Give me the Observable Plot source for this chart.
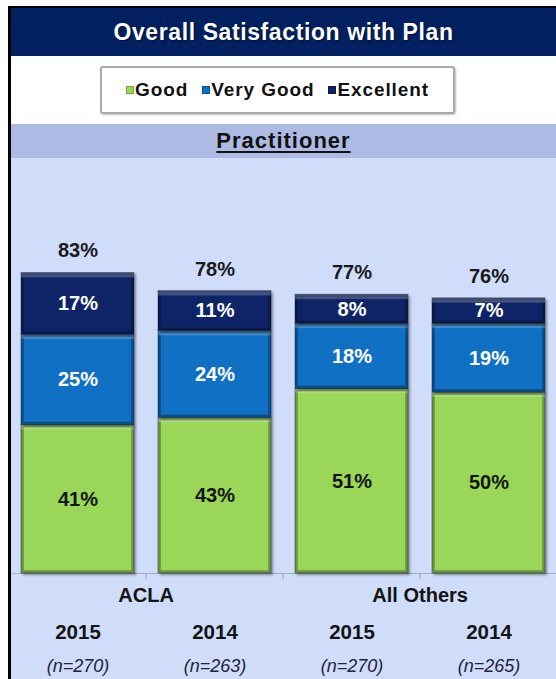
<!DOCTYPE html>
<html>
<head>
<meta charset="utf-8">
<script src="https://cdn.jsdelivr.net/npm/d3@7"></script>
<script src="https://cdn.jsdelivr.net/npm/@observablehq/plot@0.6"></script>
<style>
  html, body { margin: 0; padding: 0; background: #fff; }
  body { width: 556px; height: 679px; position: relative; overflow: hidden; font-family: "Liberation Sans", Arial, sans-serif; }
  .abs { position: absolute; }
  #topline { left: 8px; top: 6px; width: 548px; height: 2px; background: #000; }
  #leftline { left: 8px; top: 6px; width: 3px; height: 673px; background: #000; z-index: 5; }
  #header { left: 11px; top: 8px; width: 545px; height: 48px; background: #002060; color: #fff; font-weight: bold; font-size: 23px; letter-spacing: 0.6px; display: flex; align-items: center; justify-content: center; text-shadow: 1px 1px 1px rgba(0,0,0,0.5); }
  #whiteband { left: 11px; top: 56px; width: 545px; height: 68px; background: #fff; }
  #legend { left: 100px; top: 66px; width: 351px; height: 44px; border: 2px solid #a9a9a9; border-radius: 3px; box-shadow: 1px 1px 2px rgba(0,0,0,0.25); background: #fff; display: flex; align-items: center; justify-content: center; font-weight: bold; font-size: 19px; letter-spacing: 0.9px; color: #111; }
  .item { display: flex; align-items: center; margin: 0 7px 0 7px; }
  .sw { width: 8px; height: 8px; margin-right: 1px; box-shadow: inset 0 0 0 1px rgba(0,0,0,0.25); }
  #band { left: 11px; top: 124px; width: 545px; height: 34px; background: #adbae3; display: flex; align-items: center; justify-content: center; }
  #band span { font-weight: bold; font-size: 22px; letter-spacing: 1px; color: #111; text-decoration: underline; text-decoration-thickness: 2px; text-underline-offset: 3px; }
  #plotbg { left: 11px; top: 158px; width: 545px; height: 521px; background: #cfdcfa; }
  #bars { left: 11px; top: 158px; }
</style>
</head>
<body>
<div id="header" class="abs">Overall Satisfaction with Plan</div>
<div id="whiteband" class="abs"></div>
<div id="legend" class="abs"></div>
<div id="band" class="abs"><span>Practitioner</span></div>
<div id="plotbg" class="abs"></div>
<div id="bars" class="abs"></div>
<div id="topline" class="abs"></div>
<div id="leftline" class="abs"></div>
<script>
// ---- data ----
const categories = ["ACLA 2015", "ACLA 2014", "All Others 2015", "All Others 2014"];
const series = ["Good", "Very Good", "Excellent"];
const good = [41, 43, 51, 50];
const veryGood = [25, 24, 18, 19];
const excellent = [17, 11, 8, 7];
const totals = [83, 78, 77, 76];
const groups = ["ACLA", "All Others"];
const years = ["2015", "2014", "2015", "2014"];
const nLabels = ["(n=270)", "(n=263)", "(n=270)", "(n=265)"];
const colors = ["#9ad758", "#0f70c4", "#0f2467"];

// ---- tables built from the arrays ----
const seriesValues = [good, veryGood, excellent];
const rows = [];
series.forEach((s, si) => categories.forEach((c, ci) => rows.push({cat: c, series: s, value: seriesValues[si][ci]})));
const totalRows = categories.map((c, i) => ({cat: c, total: totals[i]}));
const catRows = categories.map((c, i) => ({cat: c, year: years[i], n: nLabels[i]}));
// each group label sits on the boundary between its two categories
const groupRows = groups.map((g, i) => ({cat: categories[i * 2 + 1], group: g}));
const boundaries = categories.slice(1);

// legend
const legend = document.getElementById("legend");
series.forEach((s, i) => {
  const it = document.createElement("div");
  it.className = "item";
  const sw = document.createElement("div");
  sw.className = "sw";
  sw.style.background = colors[i];
  const t = document.createElement("span");
  t.textContent = s;
  it.appendChild(sw); it.appendChild(t);
  legend.appendChild(it);
});

const font = "'Liberation Sans', Arial, sans-serif";
const xRange = [-3, 548];
const step = (xRange[1] - xRange[0]) / categories.length;

// ---- bars + category axis ----
const bars = Plot.plot({
  width: 545,
  height: 521,
  margin: 0,
  style: {background: "transparent", fontFamily: font, overflow: "visible"},
  x: {domain: categories, range: xRange, paddingInner: 0.174, paddingOuter: 0.087, axis: null},
  y: {domain: [0, 100], range: [415, 53], axis: null},
  color: {domain: series, range: colors},
  marks: [
    Plot.ruleY([0], {stroke: "#a4adbf", strokeWidth: 1.2}),
    Plot.ruleX(boundaries, {x: d => d, dx: -step / 2, y1: 0, y2: 0, insetBottom: -6, stroke: "#9aa3b5"}),
    Plot.barY(rows, {x: "cat", y: "value", fill: "series", stroke: "#1c2a40", strokeOpacity: 0.4, strokeWidth: 1}),
    Plot.text(rows, Plot.stackY({x: "cat", y: "value", z: "series",
      text: d => d.series === "Good" ? "" : d.value + "%",
      fill: "#ffffff", fontSize: 20, fontWeight: "bold"})),
    Plot.text(rows, Plot.stackY({x: "cat", y: "value", z: "series",
      text: d => d.series === "Good" ? d.value + "%" : "",
      fill: "#141414", fontSize: 20, fontWeight: "bold"})),
    Plot.text(totalRows, {x: "cat", y: "total", text: d => d.total + "%", dy: -22,
      fill: "#1a1a1a", fontSize: 20, fontWeight: "bold"}),
    Plot.text(groupRows, {x: "cat", y: 0, dx: -step / 2, dy: 22, text: "group", fontSize: 20, fontWeight: "bold", fill: "#141414"}),
    Plot.text(catRows, {x: "cat", y: 0, dy: 59, text: "year", fontSize: 20.5, fontWeight: "bold", fill: "#141414"}),
    Plot.text(catRows, {x: "cat", y: 0, dy: 93, text: "n", fontSize: 18, fontStyle: "italic", fill: "#22223a"})
  ]
});
document.getElementById("bars").appendChild(bars);

// bevel filter
const svg = d3.select(bars);
const defs = svg.insert("defs", ":first-child");
const f = defs.append("filter").attr("id", "bevel").attr("color-interpolation-filters", "sRGB")
  .attr("x", "-5%").attr("y", "-5%").attr("width", "115%").attr("height", "115%");
f.append("feMorphology").attr("in", "SourceAlpha").attr("operator", "erode").attr("radius", 3).attr("result", "inner");
f.append("feComposite").attr("in", "SourceAlpha").attr("in2", "inner").attr("operator", "out").attr("result", "ring");
f.append("feFlood").attr("flood-color", "#000").attr("flood-opacity", 0.3).attr("result", "dk");
f.append("feComposite").attr("in", "dk").attr("in2", "ring").attr("operator", "in").attr("result", "dark");
f.append("feOffset").attr("in", "SourceAlpha").attr("dy", 5).attr("result", "down");
f.append("feComposite").attr("in", "SourceAlpha").attr("in2", "down").attr("operator", "out").attr("result", "topband");
f.append("feFlood").attr("flood-color", "#fff").attr("flood-opacity", 0.22).attr("result", "lt");
f.append("feComposite").attr("in", "lt").attr("in2", "topband").attr("operator", "in").attr("result", "light");
f.append("feOffset").attr("in", "SourceAlpha").attr("dx", 1.5).attr("dy", 1.5).attr("result", "sh0");
f.append("feGaussianBlur").attr("in", "sh0").attr("stdDeviation", 1).attr("result", "sh1");
f.append("feComponentTransfer").attr("in", "sh1").attr("result", "shadow")
  .append("feFuncA").attr("type", "linear").attr("slope", 0.35);
const m = f.append("feMerge");
m.append("feMergeNode").attr("in", "shadow");
m.append("feMergeNode").attr("in", "SourceGraphic");
m.append("feMergeNode").attr("in", "dark");
m.append("feMergeNode").attr("in", "light");
svg.selectAll("g[aria-label='bar'] rect").attr("filter", "url(#bevel)");
</script>
</body>
</html>
